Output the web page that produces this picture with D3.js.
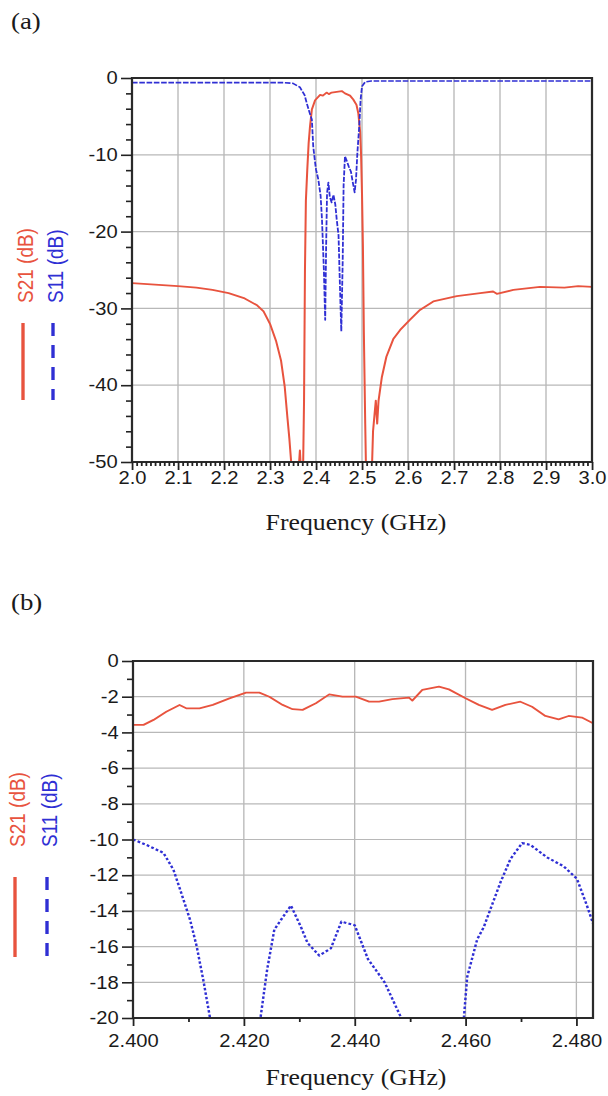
<!doctype html>
<html lang="en">
<head>
<meta charset="utf-8">
<title>S21 / S11 response</title>
<script src="https://d3js.org/d3.v7.min.js"></script>
<style>
  body { margin: 0; background: #fff; }
  svg { display: block; background: #fff; }
  .tick text { font-family: "Liberation Sans", Arial, sans-serif; font-size: 18px; fill: #1a1a1a; }
</style>
</head>
<body>
<svg id="chart"></svg>
<script>
// ---- values ----
// (a) wide sweep, 2.0 - 3.0 GHz
const topS21Freq = [2.000, 2.050, 2.100, 2.140, 2.175, 2.210, 2.245, 2.272, 2.286, 2.300, 2.313, 2.324, 2.332, 2.338, 2.342, 2.346,
  2.352, 2.360, 2.365, 2.368, 2.371, 2.374, 2.376, 2.378, 2.381, 2.384, 2.387, 2.391, 2.398, 2.409, 2.415, 2.423, 2.428, 2.434,
  2.445, 2.456, 2.463, 2.474, 2.481, 2.488, 2.492, 2.496, 2.498, 2.500, 2.502, 2.504, 2.507, 2.509, 2.515, 2.521, 2.524, 2.527,
  2.530, 2.533, 2.536, 2.543, 2.553, 2.568, 2.583, 2.604, 2.626, 2.655, 2.706, 2.757, 2.785, 2.793, 2.829, 2.887, 2.940, 2.970, 3.000];
const topS21Db = [-26.7, -26.9, -27.1, -27.3, -27.6, -28.0, -28.7, -29.6, -30.4, -32.0, -34.2, -36.8, -40.2, -44.3, -46.9, -50.0,
  -55, -53, -48.5, -52, -55, -42, -25, -16, -12, -8.5, -6.3, -4.1, -2.9, -2.2, -2.3, -1.9, -2.1, -1.9,
  -1.8, -1.7, -2.0, -2.3, -2.8, -3.5, -4.6, -7.0, -10, -15, -22, -33, -45, -52, -55, -52, -46, -44,
  -42, -45, -42, -39, -36.3, -34.0, -32.8, -31.5, -30.2, -29.1, -28.4, -28.0, -27.8, -28.1, -27.6, -27.2, -27.3, -27.1, -27.2];

const topS11Freq = [2.000, 2.200, 2.300, 2.330, 2.350, 2.365, 2.375, 2.380, 2.386, 2.391, 2.394, 2.398, 2.400, 2.405, 2.410, 2.413,
  2.417, 2.420, 2.422, 2.424, 2.427, 2.430, 2.434, 2.438, 2.442, 2.445, 2.449, 2.452, 2.455, 2.458, 2.460, 2.463, 2.467, 2.471,
  2.476, 2.480, 2.484, 2.487, 2.490, 2.494, 2.497, 2.500, 2.507, 2.520, 3.000];
const topS11Db = [-0.6, -0.6, -0.6, -0.6, -0.7, -1.2, -2.2, -3.3, -4.5, -5.4, -8.9, -11.0, -11.9, -13.2, -15.3, -18.4,
  -24.8, -31.5, -22, -15, -13.6, -15.5, -16.2, -15.2, -16.5, -18.4, -20.5, -27, -33, -24, -14, -10.2, -10.8, -11.5,
  -12.2, -13.6, -14.9, -13.2, -9.7, -6.3, -2.8, -1.1, -0.5, -0.4, -0.4];

// (b) pass band, 2.400 - 2.483 GHz
const botS21Freq = [2.4000, 2.4019, 2.4037, 2.4060, 2.4084, 2.4096, 2.4120, 2.4144, 2.4174, 2.4204, 2.4228, 2.4246, 2.4270,
  2.4288, 2.4306, 2.4330, 2.4354, 2.4378, 2.4402, 2.4426, 2.4444, 2.4468, 2.4498, 2.4504, 2.4522, 2.4552, 2.4570, 2.4600,
  2.4624, 2.4648, 2.4672, 2.4699, 2.4720, 2.4744, 2.4768, 2.4786, 2.4810, 2.4830];
const botS21Db = [-3.58, -3.58, -3.30, -2.84, -2.46, -2.65, -2.65, -2.46, -2.09, -1.77, -1.77, -2.00, -2.46,
  -2.70, -2.74, -2.37, -1.87, -2.00, -2.00, -2.28, -2.28, -2.13, -2.05, -2.22, -1.62, -1.44, -1.59, -2.09,
  -2.46, -2.74, -2.46, -2.28, -2.56, -3.08, -3.27, -3.08, -3.17, -3.49];

const botS11Freq = [2.4000, 2.4024, 2.4055, 2.4073, 2.4085, 2.4103, 2.4115, 2.4127, 2.4139, 2.4160, 2.4185, 2.4210, 2.4230,
  2.4242, 2.4255, 2.4267, 2.4285, 2.4303, 2.4315, 2.4336, 2.4357, 2.4376, 2.4400, 2.4424, 2.4454, 2.4484, 2.4510, 2.4540,
  2.4570, 2.4597, 2.4603, 2.4621, 2.4633, 2.4663, 2.4681, 2.4702, 2.4717, 2.4747, 2.4777, 2.4801, 2.4819, 2.4830];
const botS11Db = [-10.0, -10.3, -10.75, -11.7, -12.8, -14.5, -16.0, -17.9, -20.0, -24, -30, -24, -20.0,
  -17.3, -15.05, -14.5, -13.7, -14.9, -15.8, -16.5, -16.1, -14.6, -14.8, -16.7, -18.0, -20.0, -25, -32,
  -26, -20.0, -17.7, -15.6, -14.9, -12.4, -11.1, -10.2, -10.3, -11.0, -11.5, -12.2, -13.7, -14.7];

// ticks
const topXTicks = [2.0, 2.1, 2.2, 2.3, 2.4, 2.5, 2.6, 2.7, 2.8, 2.9, 3.0];
const topYTicks = [0, -10, -20, -30, -40, -50];
const botXTicks = [2.40, 2.42, 2.44, 2.46, 2.48];
const botYTicks = [0, -2, -4, -6, -8, -10, -12, -14, -16, -18, -20];

// ---- drawing ----
const SX = 1.12;           // the figure is a little stretched sideways
const RED = "#e8533e";
const BLUE = "#2f2fd4";

const svg = d3.select("#chart").attr("width", 608).attr("height", 1096);
const root = svg.append("g").attr("transform", `scale(${SX},1)`);

function panel(o) {
  const x = d3.scaleLinear().domain(o.xDomain).range([o.left / SX, o.right / SX]);
  const y = d3.scaleLinear().domain(o.yDomain).range([o.bottom, o.top]);
  const g = root.append("g");

  // grid
  g.append("g").selectAll("line").data(o.xTicks).join("line")
    .attr("x1", d => x(d)).attr("x2", d => x(d))
    .attr("y1", o.top).attr("y2", o.bottom)
    .attr("stroke", "#b8b8b8").attr("stroke-width", 1.2);
  g.append("g").selectAll("line").data(o.yTicks).join("line")
    .attr("x1", o.left / SX).attr("x2", o.right / SX)
    .attr("y1", d => y(d)).attr("y2", d => y(d))
    .attr("stroke", "#b8b8b8").attr("stroke-width", 1.2);

  // curves
  const clipId = "clip-" + o.name;
  g.append("clipPath").attr("id", clipId).append("rect")
    .attr("x", o.left / SX).attr("y", o.top)
    .attr("width", (o.right - o.left) / SX).attr("height", o.bottom - o.top);
  const line = d3.line().x(d => x(d[0])).y(d => y(d[1]));
  const curves = g.append("g").attr("clip-path", `url(#${clipId})`);
  curves.append("path").datum(d3.zip(o.s21Freq, o.s21Db))
    .attr("d", line).attr("fill", "none")
    .attr("stroke", RED).attr("stroke-width", 1.8).attr("stroke-linejoin", "round");
  curves.append("path").datum(d3.zip(o.s11Freq, o.s11Db))
    .attr("d", line).attr("fill", "none")
    .attr("stroke", BLUE).attr("stroke-width", o.s11Width)
    .attr("stroke-dasharray", o.s11Dash).attr("stroke-linejoin", "round");

  // frame
  g.append("rect")
    .attr("x", o.left / SX).attr("y", o.top)
    .attr("width", (o.right - o.left) / SX).attr("height", o.bottom - o.top)
    .attr("fill", "none").attr("stroke", "#2a2a2a").attr("stroke-width", 2);

  // axes
  const yMajor = g.append("g").attr("transform", `translate(${o.left / SX},0)`)
    .call(d3.axisLeft(y).tickValues(o.yTicks).tickSize(11 / SX).tickSizeOuter(0)
      .tickPadding(3).tickFormat(d => String(d)));
  const yMinor = g.append("g").attr("transform", `translate(${o.left / SX},0)`)
    .call(d3.axisLeft(y).tickValues(o.yMinor).tickSize(6 / SX).tickSizeOuter(0).tickFormat(""));
  const xMajor = g.append("g").attr("transform", `translate(0,${o.bottom})`)
    .call(d3.axisBottom(x).tickValues(o.xTicks).tickSize(8).tickSizeOuter(0).tickFormat(o.xFormat));
  const xMinor = g.append("g").attr("transform", `translate(0,${o.bottom})`)
    .call(d3.axisBottom(x).tickValues(o.xMinor).tickSize(4).tickSizeOuter(0).tickFormat(""));
  [yMajor, yMinor, xMajor, xMinor].forEach(a => {
    a.select(".domain").remove();
    a.selectAll(".tick line").attr("stroke", "#222").attr("stroke-width", 1.6);
  });
  xMajor.selectAll(".tick text").attr("y", o.xLabelY).attr("dy", null);

  // axis title
  g.append("text")
    .attr("x", 356 / SX).attr("y", o.titleY)
    .attr("text-anchor", "middle")
    .style("font-family", "'Liberation Serif', 'Times New Roman', serif")
    .style("font-size", "23px").style("fill", "#1a1a1a")
    .text("Frequency (GHz)");

  // panel label
  g.append("text")
    .attr("x", 11 / SX).attr("y", o.tagY)
    .style("font-family", "'Liberation Serif', 'Times New Roman', serif")
    .style("font-size", "24px").style("fill", "#1a1a1a")
    .text(o.tag);

  // rotated legend
  const lg = o.legend;
  [
    { label: "S21 (dB)", color: RED, lx: lg.redX, dash: null },
    { label: "S11 (dB)", color: BLUE, lx: lg.blueX, dash: "13,9" }
  ].forEach(it => {
    g.append("line")
      .attr("x1", it.lx / SX).attr("x2", it.lx / SX)
      .attr("y1", lg.lineTop).attr("y2", lg.lineBottom)
      .attr("stroke", it.color).attr("stroke-width", 3)
      .attr("stroke-dasharray", it.dash);
    g.append("text")
      .attr("transform", `translate(${(it.lx + 10) / SX},${lg.textStart}) rotate(-90)`)
      .style("font-family", "'Liberation Sans', Arial, sans-serif")
      .style("font-size", "19px").style("fill", it.color)
      .text(it.label);
  });
}

panel({
  name: "a", tag: "(a)", tagY: 29,
  left: 132, right: 592, top: 78, bottom: 462,
  xDomain: [2.0, 3.0], yDomain: [-50, 0],
  xTicks: topXTicks, yTicks: topYTicks,
  xMinor: d3.range(200, 301).map(v => v / 100).filter(v => Math.round(v * 100) % 10 !== 0),
  yMinor: d3.range(-48, 0, 2).filter(v => v % 10 !== 0),
  xFormat: d => d.toFixed(1), xLabelY: 22, titleY: 530,
  s21Freq: topS21Freq, s21Db: topS21Db, s11Freq: topS11Freq, s11Db: topS11Db,
  s11Dash: "5,1.5", s11Width: 1.6,
  legend: { redX: 23, blueX: 53, textStart: 303, lineTop: 323, lineBottom: 400 }
});

panel({
  name: "b", tag: "(b)", tagY: 610,
  left: 133, right: 593, top: 661, bottom: 1018,
  xDomain: [2.4, 2.483], yDomain: [-20, 0],
  xTicks: botXTicks, yTicks: botYTicks,
  xMinor: [2.41, 2.43, 2.45, 2.47],
  yMinor: d3.range(-19, 0, 2),
  xFormat: d => d.toFixed(3), xLabelY: 29, titleY: 1085,
  s21Freq: botS21Freq, s21Db: botS21Db, s11Freq: botS11Freq, s11Db: botS11Db,
  s11Dash: "2.5,2", s11Width: 2.2,
  legend: { redX: 15, blueX: 47, textStart: 847, lineTop: 877, lineBottom: 957 }
});
</script>
</body>
</html>
